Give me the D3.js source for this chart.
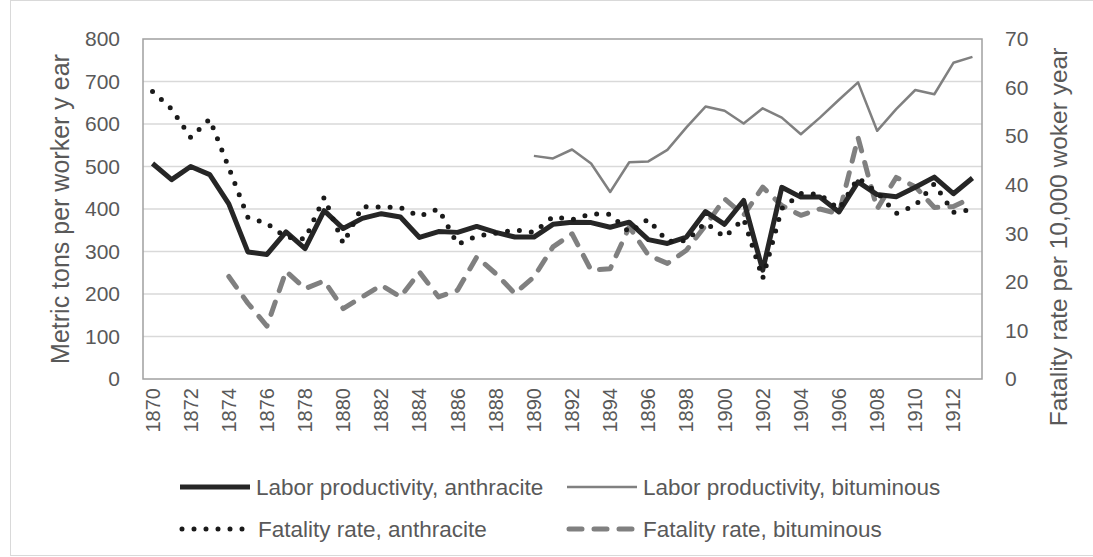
<!DOCTYPE html>
<html>
<head>
<meta charset="utf-8">
<style>
  body { margin: 0; background: #fff; }
  svg text { font-family: "Liberation Sans", Arial, sans-serif; fill: #595959; }
</style>
</head>
<body>
<svg id="chart" width="1093" height="557"></svg>
<script src="https://cdn.jsdelivr.net/npm/d3@7"></script>
<script>
// categories
var years = [1870,1871,1872,1873,1874,1875,1876,1877,1878,1879,
             1880,1881,1882,1883,1884,1885,1886,1887,1888,1889,
             1890,1891,1892,1893,1894,1895,1896,1897,1898,1899,
             1900,1901,1902,1903,1904,1905,1906,1907,1908,1909,
             1910,1911,1912,1913];

// metric tons per worker year (left axis)
var prodAnthracite = [507,469,500,481,412,299,293,346,307,396,
                      354,378,389,381,333,347,345,359,345,334,
                      334,364,369,368,357,369,328,319,334,394,
                      364,420,256,451,428,428,393,464,434,429,
                      451,475,436,473];
var prodBituminous = [null,null,null,null,null,null,null,null,null,null,
                      null,null,null,null,null,null,null,null,null,null,
                      525,519,540,507,440,510,512,539,592,641,
                      631,601,637,615,576,615,657,698,584,635,
                      680,670,744,758];

// fatalities per 10,000 worker year (right axis)
var fatalAnthracite = [59.2,55.6,49.7,53.5,43.5,33.3,32.0,29.2,28.8,37.4,
                       27.9,35.5,35.4,35.3,33.5,35.0,27.7,29.4,30.0,30.7,
                       30.2,33.4,32.8,34.0,33.9,30.2,32.9,28.3,28.5,32.2,
                       29.2,33.0,20.7,35.1,38.2,38.0,35.0,41.4,38.4,34.1,
                       35.7,40.2,34.3,34.9];
var fatalBituminous = [null,null,null,null,21.1,15.6,10.9,22.2,18.6,20.2,
                       14.5,16.9,19.3,16.9,22.0,16.9,18.3,25.1,21.7,17.6,
                       21.0,27.2,29.9,22.4,22.7,31.3,25.5,23.8,26.5,31.6,
                       37.1,33.7,39.5,35.7,33.7,35.0,34.0,49.7,35.0,41.5,
                       39.6,35.3,35.5,37.4];

var leftTicks = [0,100,200,300,400,500,600,700,800];
var rightTicks = [0,10,20,30,40,50,60,70];
var yearLabels = years.filter(function(d, i) { return i % 2 == 0; });

var svg = d3.select("#chart");
var plot = {left: 143, right: 982, top: 39, bottom: 379};

// outer chart border
svg.append("rect")
    .attr("x", 10.5).attr("y", 0.5)
    .attr("width", 1100).attr("height", 555)
    .attr("fill", "none").attr("stroke", "#d9d9d9");

var x = d3.scaleBand().domain(years).range([plot.left, plot.right]).padding(0);
var cx = function(d) { return x(d) + x.bandwidth() / 2; };
var yL = d3.scaleLinear().domain([0, 800]).range([plot.bottom, plot.top]);
var yR = d3.scaleLinear().domain([0, 70]).range([plot.bottom, plot.top]);

// gridlines
svg.append("g").selectAll("line")
    .data(leftTicks.slice(1, -1))
    .enter().append("line")
      .attr("x1", plot.left).attr("x2", plot.right)
      .attr("y1", function(d) { return yL(d); })
      .attr("y2", function(d) { return yL(d); })
      .attr("stroke", "#d9d9d9").attr("stroke-width", 1.5);

// plot border
svg.append("rect")
    .attr("x", plot.left).attr("y", plot.top)
    .attr("width", plot.right - plot.left).attr("height", plot.bottom - plot.top)
    .attr("fill", "none").attr("stroke", "#a0a0a0").attr("stroke-width", 1.5);

// left axis
var axL = svg.append("g")
    .attr("transform", "translate(120,0)")
    .call(d3.axisLeft(yL).tickValues(leftTicks).tickSize(0).tickPadding(0));
axL.select(".domain").remove();
axL.selectAll("text").attr("font-size", 21).attr("fill", "#595959")
    .attr("font-family", "Liberation Sans, Arial, sans-serif");

// right axis
var axR = svg.append("g")
    .attr("transform", "translate(1005,0)")
    .call(d3.axisRight(yR).tickValues(rightTicks).tickSize(0).tickPadding(0));
axR.select(".domain").remove();
axR.selectAll("text").attr("font-size", 21).attr("fill", "#595959")
    .attr("font-family", "Liberation Sans, Arial, sans-serif");

// bottom axis, rotated year labels
svg.append("g").selectAll("text")
    .data(yearLabels)
    .enter().append("text")
      .attr("transform", function(d) { return "translate(" + cx(d) + ",388) rotate(-90)"; })
      .attr("text-anchor", "end")
      .attr("dy", "0.35em")
      .attr("font-size", 20)
      .text(function(d) { return d; });

// axis titles
svg.append("text")
    .attr("transform", "translate(60,209) rotate(-90)")
    .attr("text-anchor", "middle").attr("dy", "0.35em")
    .attr("font-size", 25)
    .text("Metric tons per worker y ear");
svg.append("text")
    .attr("transform", "translate(1058,237) rotate(-90)")
    .attr("text-anchor", "middle").attr("dy", "0.35em")
    .attr("font-size", 24.5)
    .text("Fatality rate per 10,000 woker year");

var series = [
  {name: "Labor productivity, anthracite", values: prodAnthracite, y: yL,
   color: "#262626", width: 5, dash: null, cap: "butt"},
  {name: "Labor productivity, bituminous", values: prodBituminous, y: yL,
   color: "#808080", width: 2.5, dash: null, cap: "butt"},
  {name: "Fatality rate, anthracite", values: fatalAnthracite, y: yR,
   color: "#1a1a1a", width: 5, dash: "0 12", cap: "round"},
  {name: "Fatality rate, bituminous", values: fatalBituminous, y: yR,
   color: "#808080", width: 5, dash: "13 12", cap: "round"}
];

// draw order: bituminous dashed at the back, anthracite on top
var drawOrder = [series[3], series[1], series[0], series[2]];
drawOrder.forEach(function(s) {
  var line = d3.line()
      .defined(function(d) { return d != null; })
      .x(function(d, i) { return cx(years[i]); })
      .y(function(d) { return s.y(d); });
  svg.append("path")
      .datum(s.values)
      .attr("d", line)
      .attr("fill", "none")
      .attr("stroke", s.color)
      .attr("stroke-width", s.width)
      .attr("stroke-linejoin", "round")
      .attr("stroke-linecap", s.cap)
      .attr("stroke-dasharray", s.dash);
});

// legend
var legendPos = [[180, 487], [567, 487], [180, 529], [567, 529]];
var legend = svg.append("g").selectAll("g")
    .data(series)
    .enter().append("g")
      .attr("transform", function(d, i) { return "translate(" + legendPos[i][0] + "," + legendPos[i][1] + ")"; });
legend.append("line")
    .attr("x1", function(d) { return d.dash ? 2 : 0; })
    .attr("x2", function(d) { return d.dash ? 68 : 70; })
    .attr("stroke", function(d) { return d.color; })
    .attr("stroke-width", function(d) { return d.width; })
    .attr("stroke-linecap", function(d) { return d.cap; })
    .attr("stroke-dasharray", function(d) { return d.dash; });
legend.append("text")
    .attr("x", function(d, i) { return i == 2 ? 78 : 76; })
    .attr("dy", "0.35em")
    .attr("font-size", 22.5)
    .text(function(d) { return d.name; });
</script>
</body>
</html>
